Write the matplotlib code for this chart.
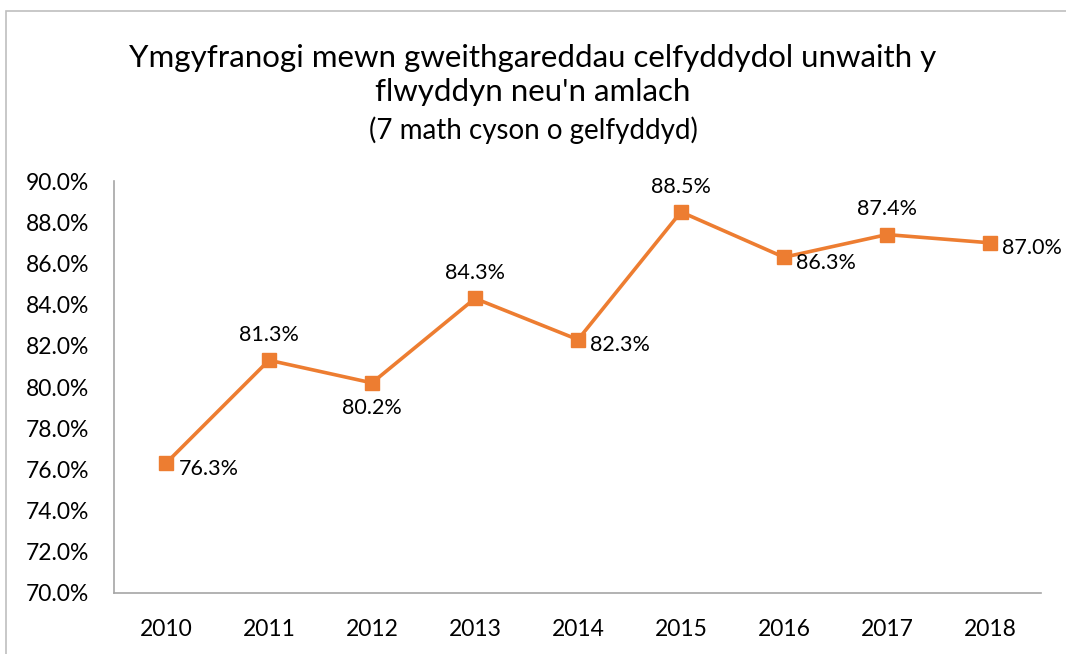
#!/usr/bin/env python
# -*- coding: utf-8 -*-

from matplotlib import pyplot as plt
from matplotlib.ticker import FuncFormatter
from matplotlib.patches import Rectangle

# data
years = ['2010', '2011', '2012', '2013', '2014', '2015', '2016', '2017', '2018']
values = [76.3, 81.3, 80.2, 84.3, 82.3, 88.5, 86.3, 87.4, 87.0]
# where each data label sits relative to its point
label_pos = ['right', 'above', 'below', 'above', 'right', 'above', 'right', 'above', 'right']

title = "Ymgyfranogi mewn gweithgareddau celfyddydol unwaith y\nflwyddyn neu'n amlach"
subtitle = "(7 math cyson o gelfyddyd)"

orange = '#ED7D31'
grey = '#A6A6A6'
label_font = 'Lato'

fig = plt.figure(figsize=(10.66, 6.54), dpi=100)
ax = fig.add_axes([0.1074, 0.0933, 0.8696, 0.6299])

# frame of the chart area (cropped on the right and bottom)
fig.patches.append(Rectangle((6 / 1066, -0.05), 1.2, 1 - 11 / 654 + 0.05,
                             transform=fig.transFigure, fill=False,
                             edgecolor='#BFBFBF', linewidth=1.2))

x = list(range(len(years)))
ax.plot(x, values, color=orange, linewidth=2.6, marker='s', markersize=9.5,
        markeredgecolor=orange, markerfacecolor=orange, zorder=3)

for xi, v, pos in zip(x, values, label_pos):
    txt = '%.1f%%' % v
    if pos == 'right':
        ax.annotate(txt, (xi, v), xytext=(9, -4), textcoords='offset points',
                    ha='left', va='center', fontsize=15.5, family=label_font)
    elif pos == 'above':
        ax.annotate(txt, (xi, v), xytext=(0, 11), textcoords='offset points',
                    ha='center', va='bottom', fontsize=15.5, family=label_font)
    else:
        ax.annotate(txt, (xi, v), xytext=(0, -11), textcoords='offset points',
                    ha='center', va='top', fontsize=15.5, family=label_font)

ax.set_xlim(-0.5, len(years) - 0.5)
ax.set_ylim(70, 90)
ax.set_yticks([70 + 2 * i for i in range(11)])
ax.yaxis.set_major_formatter(FuncFormatter(lambda v, p: '%.1f%%' % v))
ax.set_xticks(x)
ax.set_xticklabels(years)

for s in ['top', 'right']:
    ax.spines[s].set_visible(False)
for s in ['left', 'bottom']:
    ax.spines[s].set_color(grey)
    ax.spines[s].set_linewidth(1.2)

ax.tick_params(axis='both', length=0, labelsize=16.5)
ax.tick_params(axis='y', pad=18)
ax.tick_params(axis='x', pad=19)
for lbl in ax.get_xticklabels() + ax.get_yticklabels():
    lbl.set_family(label_font)

fig.text(0.5, 1 - 75 / 654, title, ha='center', va='center', fontsize=22.5,
         family='Lato', linespacing=1.25)
fig.text(0.5, 1 - 130 / 654, subtitle, ha='center', va='center', fontsize=20,
         family='Lato')

fig.savefig('out.png', dpi=100)
